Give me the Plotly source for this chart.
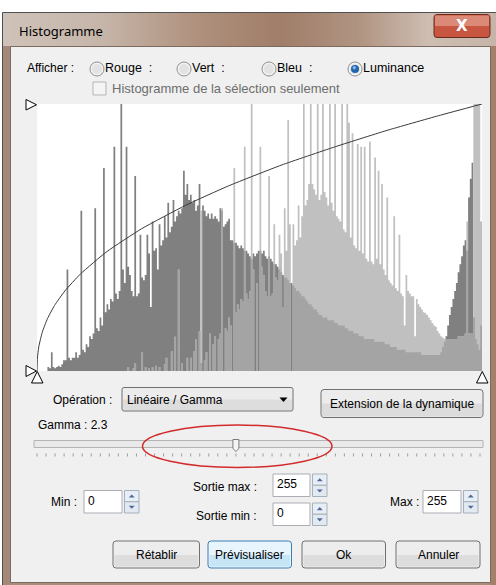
import numpy as np
import plotly.graph_objects as go

W, H = 496, 585
FONT = "Liberation Sans"

# ---------------- data (heights in % of plot height) ----------------
bins = list(range(256))

original = [
    0, 0, 0, 0, 0, 0, 1.5, 1, 7, 1.5, 1, 1.5, 2, 1.5, 2.5, 4,
    4, 38, 5, 4, 5, 5, 7, 5, 6, 60, 8, 7, 10, 9, 13, 12,
    14, 61, 16, 15, 20, 17, 76, 22, 25, 23, 27, 26, 84, 29, 27, 30,
    105, 38, 33, 84, 39, 36, 30, 28, 73, 28, 29, 51, 35, 34, 36, 51,
    44, 24, 56, 45, 46, 38, 55, 47, 49, 58, 50, 63, 52, 54, 64, 56,
    58, 60, 59, 61, 75, 66, 70, 64, 66, 63, 64, 60, 62, 70, 3, 62,
    60, 58, 59, 57, 59, 57, 58, 57, 56, 61, 60, 54, 55, 56, 57, 49,
    49, 48, 48, 47, 46, 47, 46, 45, 45, 44, 43, 42, 44, 43, 44, 45,
    45, 44, 45, 43, 42, 43, 42, 41, 40, 40, 39, 38, 37, 36, 35, 35,
    34, 33, 33, 32, 31, 30, 30, 29, 28, 28, 27, 26, 25, 25, 24, 23,
    23, 22, 21, 21, 20, 20, 20, 19, 19, 19, 19, 18, 18, 17, 17, 17,
    17, 16, 16, 15, 15, 15, 14, 14, 14, 13, 13, 13, 12, 12, 12, 12,
    12, 12, 11, 11, 11, 11, 11, 11, 10, 10, 10, 9, 9, 9, 9, 8,
    8, 8, 8, 8, 7, 7, 7, 7, 7, 7, 7, 7, 7, 6, 6, 6,
    6, 6, 6, 6, 6, 6, 6, 6, 7, 9, 11, 13, 17, 21, 24, 27,
    30, 33, 37, 40, 43, 47, 49, 45, 65, 72, 78, 20, 12, 10, 8, 17,
]

transformed = [
    0, 0, 0, 0, 0, 0, 0, 0, 0, 0, 0, 0, 0, 0, 0, 0,
    0, 0, 0, 0, 0, 0, 0, 0, 0, 0, 0, 0, 0, 0, 0, 0,
    0, 0, 0, 0, 0, 0, 0, 0, 0, 0, 0, 0, 0, 0, 0, 0,
    0, 0, 0, 0, 1.5, 0, 0, 1, 3, 0, 0, 0, 7, 0, 1.5, 0,
    1, 0, 1.5, 0, 2, 0, 1.5, 0, 0, 2.5, 5, 0, 0, 7.5, 0, 12.8,
    0, 38, 0, 3, 0, 0, 5, 0, 5, 0, 7.5, 12, 0, 15, 60, 0,
    4, 7, 0, 14, 0, 10, 13, 0, 12, 14, 61, 0, 16, 15, 20, 17,
    0, 76, 22, 25, 23, 27, 26, 84, 29, 27, 30, 105, 38, 0, 33, 0,
    84, 39, 36, 30, 28, 73, 28, 29, 55, 35, 34, 51, 44, 24, 61, 45,
    94, 55, 0, 55, 47, 49, 62, 50, 58, 105, 62, 64, 70, 105, 70, 68,
    66, 105, 64, 66, 105, 67, 65, 62, 105, 63, 60, 105, 58, 57, 56, 105,
    53, 52, 105, 93, 50, 89, 47, 46, 85, 45, 84, 44, 84, 42, 41, 86,
    41, 40, 80, 42, 75, 40, 70, 38, 36, 65, 34, 33, 32, 58, 31, 30,
    51, 29, 28, 17, 36, 30, 29, 28, 28, 13, 27, 25, 24, 23, 22, 21.6,
    21, 20, 19, 18, 17, 16.6, 15, 14, 13, 12.5, 12, 12, 12, 12, 12, 12,
    12, 12, 13, 13, 13, 13, 14, 56, 14, 14, 14, 105, 105, 105, 105, 56,
]

# gamma curve (input level -> output % height)
curve_in = [0, 0.25, 1, 3, 6, 10, 16, 25, 40, 60, 85, 110, 140, 170, 200, 230, 255]
curve_out = [0, 4.9, 9.0, 14.5, 19.6, 24.5, 30.0, 36.4, 44.7, 53.3, 62.0, 69.4, 77.1, 83.8, 90.0, 95.6, 100]

channels = ["Rouge :", "Vert :", "Bleu :", "Luminance"]
gamma_label = "Gamma : 2.3"
gamma_slider_min, gamma_slider_max, gamma_value = 0.1, 5.0, 2.3
field_min, field_max, out_max, out_min = "0", "255", "255", "0"
buttons = ["Rétablir", "Prévisualiser", "Ok", "Annuler"]

# ---------------- helpers (pixel -> paper) ----------------
def X(px):
    return px / W

def Y(py):
    return 1 - py / H

shapes = []
annotations = []

def rect(x0, y0, x1, y1, fill=None, line=None, lw=1):
    shapes.append(dict(type="rect", xref="paper", yref="paper", layer="below",
                       x0=X(x0), x1=X(x1), y0=Y(y1), y1=Y(y0),
                       fillcolor=fill or "rgba(0,0,0,0)",
                       line=dict(color=line or "rgba(0,0,0,0)", width=lw if line else 0)))

def path(pts, fill=None, line=None, lw=1, close=True, layer="below"):
    d = "M " + " L ".join(f"{X(a):.5f},{Y(b):.5f}" for a, b in pts) + (" Z" if close else "")
    shapes.append(dict(type="path", xref="paper", yref="paper", layer=layer, path=d,
                       fillcolor=fill or "rgba(0,0,0,0)",
                       line=dict(color=line or "rgba(0,0,0,0)", width=lw if line else 0)))

def rrect(x0, y0, x1, y1, r, fill, line, lw=1):
    d = (f"M {X(x0+r)},{Y(y0)} L {X(x1-r)},{Y(y0)} Q {X(x1)},{Y(y0)} {X(x1)},{Y(y0+r)} "
         f"L {X(x1)},{Y(y1-r)} Q {X(x1)},{Y(y1)} {X(x1-r)},{Y(y1)} L {X(x0+r)},{Y(y1)} "
         f"Q {X(x0)},{Y(y1)} {X(x0)},{Y(y1-r)} L {X(x0)},{Y(y0+r)} Q {X(x0)},{Y(y0)} {X(x0+r)},{Y(y0)} Z")
    shapes.append(dict(type="path", xref="paper", yref="paper", layer="below", path=d,
                       fillcolor=fill, line=dict(color=line, width=lw)))

def circle(cx, cy, r, fill, line=None, lw=1):
    shapes.append(dict(type="circle", xref="paper", yref="paper", layer="below",
                       x0=X(cx - r), x1=X(cx + r), y0=Y(cy + r), y1=Y(cy - r),
                       fillcolor=fill, line=dict(color=line or "rgba(0,0,0,0)", width=lw if line else 0)))

def text(s, x, y, anchor="left", size=12, color="#000000", family=FONT, bold=False):
    annotations.append(dict(text=f"<b>{s}</b>" if bold else s, x=X(x), y=Y(y), xref="paper", yref="paper",
                            xanchor=anchor, yanchor="middle", showarrow=False,
                            font=dict(size=size, color=color, family=family), borderpad=0))

def lerp(c1, c2, t):
    return tuple(int(round(a + (b - a) * t)) for a, b in zip(c1, c2))

# ---------------- window frame ----------------
rect(0, 0, 496, 585, fill="#ffffff")
rect(2.5, 12.5, 497, 586, fill="#a88d7b", line="#505050")
stops = [(3, (206, 194, 184)), (100, (198, 182, 170)), (200, (174, 144, 124)),
         (280, (160, 126, 105)), (360, (176, 148, 130)), (430, (206, 190, 178)), (496, (198, 180, 168))]
xs = 3
while xs < 496:
    xe = min(xs + 4, 496)
    xm = (xs + xe) / 2
    for (a, ca), (b, cb) in zip(stops[:-1], stops[1:]):
        if a <= xm <= b:
            c = lerp(ca, cb, (xm - a) / (b - a))
            break
    rect(xs, 13, xe + 0.3, 46, fill="rgb(%d,%d,%d)" % c)
    xs = xe
rect(3, 46, 10.5, 585, fill="#a4887a")
rect(490, 46, 496, 585, fill="#a57f6a")
rect(10.5, 46.5, 490.5, 582.5, fill="#f0f0f0", line="#7d6a5e")

# title + close button
text("Histogramme", 18, 31, size=13, family="Noto Sans")
rrect(434, 14.5, 490, 37.5, 3, "#c8553f", "#6b2a20")
rect(435, 15.5, 489, 26, fill="#dc8a78")
text("X", 462, 26.5, anchor="center", size=15, color="#ffffff", family="DejaVu Sans", bold=True)

# ---------------- channel selector ----------------
text("Afficher :", 26, 68)
radio_x = [97, 184, 269, 355]
for cx, lab in zip(radio_x, channels):
    circle(cx, 69, 7, "#f2f2f2", "#8e8f8f")
    circle(cx, 69, 5, "#e2e2e2")
    text(lab.replace(" :", "\u00a0\u00a0:"), cx + 6.5, 68, size=12.5)
circle(355, 69, 4, "#1f64ad")
circle(354.3, 67.8, 1.7, "#7fb6ea")
rect(93, 82, 106, 95, fill="#f4f4f4", line="#b5b5b5")
text("Histogramme de la sélection seulement", 111, 88, size=13, color="#6d6d6d")

# ---------------- histogram plot area ----------------
rect(37, 104, 482, 371, fill="#ffffff")

tri = dict(fill="#ffffff", line="#000000", lw=1)
path([(26, 99.5), (26, 110), (36.5, 104.75)], **tri, layer="above")
path([(26, 365.5), (26, 376.5), (36.5, 371)], **tri, layer="above")
path([(31.5, 383), (43, 383), (37.25, 371.5)], **tri, layer="above")
path([(476.5, 383), (488, 383), (482.25, 371.5)], **tri, layer="above")

# ---------------- operation row ----------------
text("Opération :", 52, 400)
rrect(122, 387.5, 293, 411, 2, "#ececec", "#707070")
rect(123, 399.5, 292, 410, fill="#dddddd")
text("Linéaire / Gamma", 126, 399.5)
path([(279.5, 397.5), (287.5, 397.5), (283.5, 402)], fill="#000000")
rrect(321, 389.5, 483, 417.5, 3, "#ececec", "#707070")
rect(322, 403.5, 482, 416.5, fill="#dcdcdc")
text("Extension de la dynamique", 402, 403.5, anchor="center")

# ---------------- gamma slider ----------------
text(gamma_label, 37, 425)
rect(34, 440.5, 483, 447.5, fill="#e9e9e9", line="#b4b4b4")
tx0, tx1 = 37, 480
n_ticks = int(round((gamma_slider_max - gamma_slider_min) * 10)) + 1
dpath = ""
for i in range(n_ticks):
    xt = tx0 + i * (tx1 - tx0) / (n_ticks - 1)
    dpath += f"M {X(xt)},{Y(453.5)} L {X(xt)},{Y(456.5)} "
shapes.append(dict(type="path", xref="paper", yref="paper", layer="below", path=dpath,
                   line=dict(color="#9c9c9c", width=1)))
thumb_x = tx0 + (gamma_value - gamma_slider_min) / (gamma_slider_max - gamma_slider_min) * (tx1 - tx0)
path([(thumb_x - 3, 439.5), (thumb_x + 3, 439.5), (thumb_x + 3, 448.5), (thumb_x, 451.5), (thumb_x - 3, 448.5)],
     fill="#f4f4f4", line="#7a7a7a")
shapes.append(dict(type="circle", xref="paper", yref="paper", layer="above",
                   x0=X(142.5), x1=X(332), y0=Y(467.5), y1=Y(425),
                   line=dict(color="#d22b2b", width=1.5)))

# ---------------- numeric fields ----------------
def field(x0, y0, x1, y1, val):
    rect(x0, y0, x1, y1, fill="#ffffff", line="#abadb3")
    text(val, x0 + 3, (y0 + y1) / 2 - 1)
    sx0, sx1 = x1 + 2.5, x1 + 17
    ym = (y0 + y1) / 2
    rect(sx0, y0, sx1, ym, fill="#e8eef5", line="#a5b0bd")
    rect(sx0, ym, sx1, y1, fill="#e3e9f1", line="#a5b0bd")
    cx = (sx0 + sx1) / 2
    path([(cx - 3, (y0 + ym) / 2 + 1.5), (cx + 3, (y0 + ym) / 2 + 1.5), (cx, (y0 + ym) / 2 - 1.5)], fill="#4d6a9a")
    path([(cx - 3, (ym + y1) / 2 - 1.5), (cx + 3, (ym + y1) / 2 - 1.5), (cx, (ym + y1) / 2 + 1.5)], fill="#4d6a9a")

text("Min :", 50, 502)
field(84, 490.5, 122, 513, field_min)
text("Sortie max :", 192, 487)
field(273, 474, 310, 496.5, out_max)
text("Sortie min :", 195, 516)
field(273, 503, 310, 525.5, out_min)
text("Max :", 389, 502)
field(423, 490.5, 461, 513, field_max)

# ---------------- buttons ----------------
btn_x = [(113, 199.5), (208, 291.5), (302, 385.5), (396, 480)]
for (bx0, bx1), lab in zip(btn_x, buttons):
    if lab == "Prévisualiser":
        rrect(bx0, 541, bx1, 568, 3, "#e8f5fc", "#3c7fb1")
        rect(bx0 + 1.5, 555, bx1 - 1.5, 566.5, fill="#c6e6f7")
    else:
        rrect(bx0, 541, bx1, 568, 3, "#ededed", "#707070")
        rect(bx0 + 1.5, 555, bx1 - 1.5, 566.5, fill="#dddddd")
    text(lab, (bx0 + bx1) / 2, 554.5, anchor="center")

# ---------------- histogram traces ----------------
edges = [b - 0.5 for b in bins] + [255.5]
def stepped(vals):
    return list(vals) + [vals[-1]]

overlap = np.minimum(np.array(original), np.array(transformed)).tolist()

fig = go.Figure()
for vals, col, name in [(original, "#808080", "original"),
                        (transformed, "#c0c0c0", "transformed"),
                        (overlap, "#a4a4a4", "overlap")]:
    fig.add_trace(go.Scatter(x=edges, y=stepped(vals), mode="lines", line=dict(width=0, shape="hv"),
                             fill="tozeroy", fillcolor=col, name=name, hoverinfo="skip",
                             xaxis="x", yaxis="y"))
fig.add_trace(go.Scatter(x=curve_in, y=curve_out, mode="lines", name="gamma",
                         line=dict(color="#3a3a3a", width=1, shape="spline", smoothing=0.5),
                         xaxis="x2", yaxis="y", hoverinfo="skip"))

ax_common = dict(visible=False, showgrid=False, zeroline=False, fixedrange=True)
fig.update_layout(
    width=W, height=H, autosize=False,
    margin=dict(l=0, r=0, t=0, b=0),
    paper_bgcolor="#ffffff", plot_bgcolor="rgba(0,0,0,0)",
    showlegend=False,
    xaxis=dict(domain=[X(37), X(482)], range=[-0.5, 255.5], **ax_common),
    xaxis2=dict(overlaying="x", range=[0, 255], **ax_common),
    yaxis=dict(domain=[Y(371), Y(104)], range=[0, 100], **ax_common),
    shapes=shapes, annotations=annotations,
)
fig.write_html("out.html", config={"displayModeBar": False},
               post_script="document.body.style.margin='0';document.body.style.overflow='hidden';")
